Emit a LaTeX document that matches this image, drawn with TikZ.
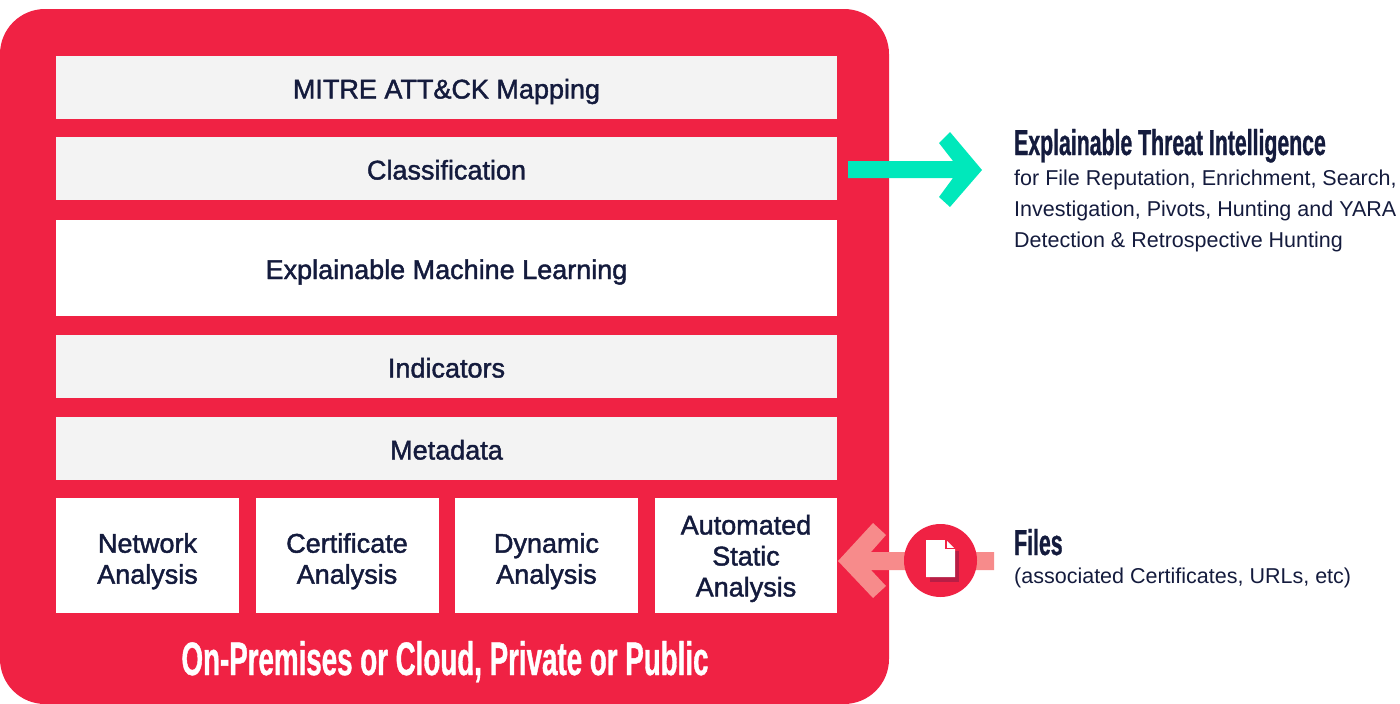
\documentclass[tikz,border=0pt]{standalone}
\usepackage{fontspec}
\setmainfont{Liberation Sans}
\newfontfamily\boxfont[FakeBold=1.6]{Liberation Sans}
\newfontfamily\headfont[FakeStretch=0.59,FakeBold=0.8]{Liberation Sans Bold}
\definecolor{platered}{HTML}{F02244}
\definecolor{layergrey}{HTML}{F3F3F3}
\definecolor{textnavy}{HTML}{141B3D}
\definecolor{outgreen}{HTML}{00E8BB}
\definecolor{inpink}{HTML}{F78B8B}
\definecolor{shadowred}{HTML}{B81E45}
\tikzset{
	layer/.style={fill=#1, text=textnavy, font=\boxfont\fontsize{27}{31}\selectfont, align=center, inner sep=0pt},
	oneline/.style={text height=22pt, text depth=0pt},
	sidetext/.style={text=textnavy, anchor=north west, align=left, inner sep=0pt, font=\fontsize{21.5}{31}\selectfont},
	sidehead/.style={text=textnavy, anchor=base west, inner sep=0pt},
}

\begin{document}
\begin{tikzpicture}[x=1pt, y=-1pt]
			%%%%% START %%%%%
			
			\useasboundingbox (0, 0) rectangle (1400, 704);
			
			\fill[platered, rounded corners=45pt] (0, 9) rectangle (889, 704);
			
			\node[layer=layergrey, oneline, minimum width=781pt, minimum height=63pt] (mitre) at (446.5, 87.5) {MITRE ATT\&CK Mapping};
			\node[layer=layergrey, oneline, minimum width=781pt, minimum height=63pt] (classification) at (446.5, 168.5) {Classification};
			\node[layer=white, oneline, minimum width=781pt, minimum height=96pt] (explainable) at (446.5, 268) {Explainable Machine Learning};
			\node[layer=layergrey, oneline, minimum width=781pt, minimum height=63pt] (indicators) at (446.5, 366.5) {Indicators};
			\node[layer=layergrey, oneline, minimum width=781pt, minimum height=63pt] (metadata) at (446.5, 448.5) {Metadata};
			
			\node[layer=white, minimum width=183pt, minimum height=115pt] (network) at (147.5, 555.5) {\rule{0pt}{31pt}Network\\Analysis};
			\node[layer=white, minimum width=183pt, minimum height=115pt] (certificate) at (347, 555.5) {\rule{0pt}{31pt}Certificate\\Analysis};
			\node[layer=white, minimum width=183pt, minimum height=115pt] (dynamic) at (546.5, 555.5) {\rule{0pt}{31pt}Dynamic\\Analysis};
			\node[layer=white, minimum width=182pt, minimum height=115pt] (static) at (746, 555.5) {\rule{0pt}{25.5pt}Automated\\Static\\Analysis};
			
			\node[text=white, anchor=base, inner sep=0pt, font=\headfont\fontsize{47}{47}\selectfont] (platform) at (445, 675) {On-Premises or Cloud, Private or Public};
			
			% output arrow
			\fill[outgreen] (848, 161) -- (953, 161) -- (939, 143) -- (950, 132) -- (982, 170) -- (950, 207) -- (939, 197) -- (953, 178) -- (848, 178) -- cycle;
			
			% input arrow
			\fill[inpink] (994, 552) -- (871, 552) -- (886, 535) -- (873, 523) -- (838, 561) -- (873, 598) -- (886, 586) -- (871, 570) -- (994, 570) -- cycle;
			
			% file badge
			\fill[platered] (940.5, 560.5) circle (36.5);
			\fill[shadowred] (930, 551) rectangle (959, 582);
			\fill[white] (926, 540) -- (946, 540) -- (955, 549) -- (955, 577) -- (926, 577) -- cycle;
			\draw[platered, line width=1.5pt] (946, 540) -- (946, 548.5) -- (955, 548.5);
			
			\node[sidehead, font=\headfont\fontsize{36}{36}\selectfont] (threat) at (1014, 155) {Explainable Threat Intelligence};
			\node[sidetext] (threatnote) at (1014, 170) {for File Reputation, Enrichment, Search,\\Investigation, Pivots, Hunting and YARA\\Detection \& Retrospective Hunting};
			
			\node[sidehead, font=\headfont\fontsize{36}{36}\selectfont] (files) at (1014, 555) {Files};
			\node[sidetext] (filesnote) at (1014, 568) {(associated Certificates, URLs, etc)};
			
			%%%%% END %%%%%
		\end{tikzpicture}
\end{document}
